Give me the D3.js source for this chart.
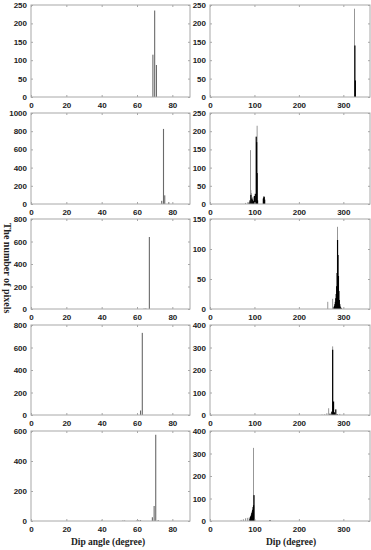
<!DOCTYPE html>
<html><head><meta charset="utf-8">
<script src="https://cdn.jsdelivr.net/npm/d3@7"></script>
<style>body{margin:0;background:#fff}svg{display:block}</style>
</head><body><svg id="c" width="371" height="550"></svg>
<script>
// ---- data: [bin (degree), pixel count] ----
const dipAngleTicks = [0,20,40,60,80];
const dipTicks = [0,100,200,300];
const leftYMax = [250,1000,800,800,600];
const leftYStep = [50,200,200,200,200];
const rightYMax = [250,250,150,400,400];
const rightYStep = [50,50,50,100,100];

const angle1 = [[69,115],[70,235],[71,87]];
const angle2 = [[74,35],[75,825],[75.7,95],[78,20]];
const angle3 = [[64,4],[65,5],[67,640]];
const angle4 = [[62,40],[63,730]];
const angle5 = [[40,3],[52,3],[53,3],[60,4],[61,5],[62,6],[68.7,25],[69.7,100],[70.6,575],[72,6]];

const dipGray1 = [[325,240]];
const dipBlack1 = [[326,140],[327,45]];
const dipGray2 = [[80,3],[85,5],[91,148],[92,38],[93,30],[95,18],[97,20],[106,215],[121,22]];
const dipBlack2 = [[88,4],[90,10],[92,25],[94,15],[96,12],[98,8],[100,22],[102,28],[104,185],[105,170],[106,85],[107,10],[120,15],[121,18],[122,20],[123,12]];
const dipGray3 = [[265,12],[276,17],[287,137]];
const dipBlack3 = [[279,3],[280,5],[281,8],[282,12],[283,18],[284,25],[285,38],[286,60],[287,115],[288,90],[289,55],[290,30],[291,15],[292,8],[293,4],[295,2]];
const dipGray4 = [[252,2],[258,3],[263,8],[267,30],[276,305],[292,5]];
const dipBlack4 = [[270,6],[274,15],[276,290],[278,60],[280,12],[283,25],[286,4]];
const dipGray5 = [[70,5],[75,8],[80,12],[84,14],[88,15],[98,325],[135,4]];
const dipBlack5 = [[90,10],[91,18],[92,22],[93,28],[94,35],[95,42],[96,50],[97,62],[98,70],[99,115],[100,8],[135,3]];

const leftData = [angle1,angle2,angle3,angle4,angle5];
const rightGray = [dipGray1,dipGray2,dipGray3,dipGray4,dipGray5];
const rightBlack = [dipBlack1,dipBlack2,dipBlack3,dipBlack4,dipBlack5];

// ---- layout ----
const svg = d3.select("#c");
const tops = [5,113,219,325,431];
const bottoms = [97,204,309,415,521];
const cols = [{x0:31,x1:190,dom:[0,90],ticks:dipAngleTicks},{x0:210,x1:370,dom:[0,360],ticks:dipTicks}];
const frame = "#a8a8a8";
const font = "Liberation Sans, Arial, sans-serif";

function panel(col, row, yMax, yStep, series) {
  const c = cols[col];
  const x = d3.scaleLinear().domain(c.dom).range([c.x0, c.x1]);
  const y = d3.scaleLinear().domain([0,yMax]).range([bottoms[row], tops[row]]);
  const g = svg.append("g");
  const yTicks = d3.range(0, yMax+0.001, yStep);
  series.forEach(s => {
    g.selectAll(null).data(s.data).enter().append("rect")
      .attr("x", d => x(d[0]) - s.w/2)
      .attr("width", s.w)
      .attr("y", d => y(d[1]))
      .attr("height", d => y(0) - y(d[1]))
      .attr("fill", s.color);
  });
  g.append("rect").attr("x", c.x0).attr("y", tops[row]).attr("width", c.x1-c.x0)
    .attr("height", bottoms[row]-tops[row]).attr("fill","none").attr("stroke",frame).attr("stroke-width",1);
  const xa = d3.axisBottom(x).tickValues(c.ticks).tickSizeInner(-2).tickSizeOuter(0).tickPadding(5).tickFormat(d3.format("d"));
  const gx = g.append("g").attr("transform",`translate(0,${bottoms[row]})`).call(xa);
  const xt = d3.axisTop(x).tickValues(c.ticks).tickSizeInner(-2).tickSizeOuter(0).tickFormat("");
  const gxt = g.append("g").attr("transform",`translate(0,${tops[row]})`).call(xt);
  const ya = d3.axisLeft(y).tickValues(yTicks).tickSizeInner(-2).tickSizeOuter(0).tickPadding(4).tickFormat(d3.format("d"));
  const gy = g.append("g").attr("transform",`translate(${c.x0},0)`).call(ya);
  const yr = d3.axisRight(y).tickValues(yTicks).tickSizeInner(-2).tickSizeOuter(0).tickFormat("");
  const gyr = g.append("g").attr("transform",`translate(${c.x1},0)`).call(yr);
  [gx,gxt,gy,gyr].forEach(a => {
    a.select(".domain").remove();
    a.selectAll("line").attr("stroke",frame);
    a.selectAll("text").attr("font-family",font).attr("font-size",8).attr("font-weight","bold").attr("fill","#222");
  });
}

for (let i=0;i<5;i++){
  panel(0, i, leftYMax[i], leftYStep[i], [{data:leftData[i], color:"#6a6a6a", w:1.1}]);
  panel(1, i, rightYMax[i], rightYStep[i], [
    {data:rightGray[i], color:"#8c8c8c", w:0.9},
    {data:rightBlack[i], color:"#000", w:1.2}
  ]);
}

svg.append("text").attr("transform","translate(4,268) rotate(90)")
  .attr("text-anchor","middle").attr("font-family","Liberation Serif, Times New Roman, serif")
  .attr("font-weight","bold").attr("font-size",10).attr("fill","#222").text("The number of pixels");
svg.append("text").attr("x",108).attr("y",545).attr("text-anchor","middle")
  .attr("font-family","Liberation Serif, Times New Roman, serif").attr("font-weight","bold")
  .attr("font-size",9.5).attr("fill","#222").text("Dip angle (degree)");
svg.append("text").attr("x",291).attr("y",545).attr("text-anchor","middle")
  .attr("font-family","Liberation Serif, Times New Roman, serif").attr("font-weight","bold")
  .attr("font-size",9.5).attr("fill","#222").text("Dip (degree)");
</script></body></html>
